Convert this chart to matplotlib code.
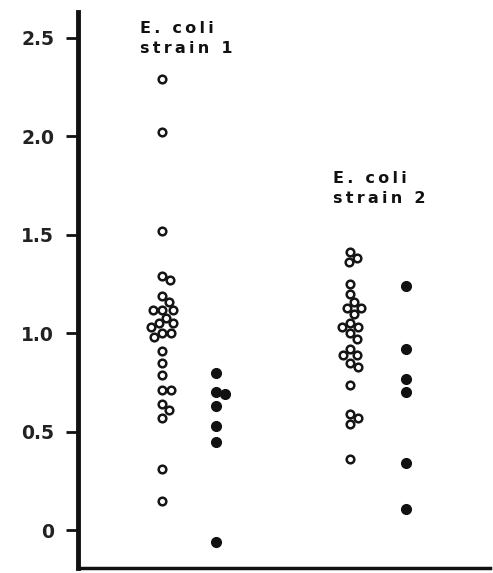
import numpy as np
import matplotlib.pyplot as plt

# values
strain1_open = [2.29, 2.02, 1.52, 1.29, 1.27, 1.19, 1.16, 1.12, 1.12, 1.12, 1.08, 1.05, 1.05,
                1.03, 1.00, 1.00, 0.98, 0.91, 0.85, 0.79, 0.71, 0.71, 0.64, 0.61, 0.57, 0.31, 0.15]
strain1_filled = [0.80, 0.70, 0.69, 0.63, 0.53, 0.45, -0.06]
strain2_open = [1.41, 1.38, 1.36, 1.25, 1.20, 1.16, 1.13, 1.13, 1.10, 1.05, 1.03, 1.03, 1.00,
                0.97, 0.92, 0.89, 0.89, 0.85, 0.83, 0.74, 0.59, 0.57, 0.54, 0.36]
strain2_filled = [1.24, 0.92, 0.77, 0.70, 0.34, 0.11]
group_x = [2.05, 3.35, 6.6, 7.95]
yticks = [0, 0.5, 1.0, 1.5, 2.0, 2.5]
ytick_labels = ['0', '0.5', '1.0', '1.5', '2.0', '2.5']
labels = ['E. coli\nstrain 1', 'E. coli\nstrain 2']


def swarm(ax, x0, vals, d):
    # simple beeswarm in pixel space
    pts = ax.transData.transform([(x0, v) for v in vals])
    placed = []
    cands = [0]
    for k in range(1, 40):
        cands += [k, -k]
    for px, py in pts:
        for c in cands:
            x = px + c
            if all((x - qx) ** 2 + (py - qy) ** 2 >= d * d for qx, qy in placed):
                break
        placed.append((x, py))
    return ax.transData.inverted().transform(placed)


def spaced(s):
    # the original lettering is set with wide tracking
    return '\n'.join('\u2009'.join(line) for line in s.split('\n'))


fig = plt.figure(figsize=(4.93, 5.73), dpi=100)
ax = fig.add_axes([0.158, 0.009, 0.836, 0.970])
ax.set_xlim(0, 10)
ax.set_ylim(-0.19, 2.63)

for sp in ['top', 'right']:
    ax.spines[sp].set_visible(False)
ax.spines['left'].set_linewidth(3.5)
ax.spines['bottom'].set_linewidth(2.5)
ax.spines['left'].set_color('#111111')
ax.spines['bottom'].set_color('#111111')
ax.set_xticks([])
ax.set_yticks(yticks)
ax.set_yticklabels(ytick_labels, fontsize=13.5, fontweight='bold', color='#222222')
ax.tick_params(axis='y', length=9, width=2, pad=8, color='#111111')

xy = swarm(ax, group_x[0], strain1_open, 8.5)
ax.plot(xy[:, 0], xy[:, 1], 'o', ms=5.5, mfc='white', mec='#151515', mew=1.8, ls='none')
xy = swarm(ax, group_x[1], strain1_filled, 8.5)
ax.plot(xy[:, 0], xy[:, 1], 'o', ms=7, mfc='#111111', mec='#111111', ls='none')
xy = swarm(ax, group_x[2], strain2_open, 8.5)
ax.plot(xy[:, 0], xy[:, 1], 'o', ms=5.5, mfc='white', mec='#151515', mew=1.8, ls='none')
xy = swarm(ax, group_x[3], strain2_filled, 8.5)
ax.plot(xy[:, 0], xy[:, 1], 'o', ms=7, mfc='#111111', mec='#111111', ls='none')

ax.text(1.5, 2.585, spaced(labels[0]), fontsize=11.5, fontweight='bold', va='top', ha='left',
        linespacing=1.45, color='#111111')
ax.text(6.19, 1.825, spaced(labels[1]), fontsize=11.5, fontweight='bold', va='top', ha='left',
        linespacing=1.45, color='#111111')

fig.savefig('out.png', dpi=100)
